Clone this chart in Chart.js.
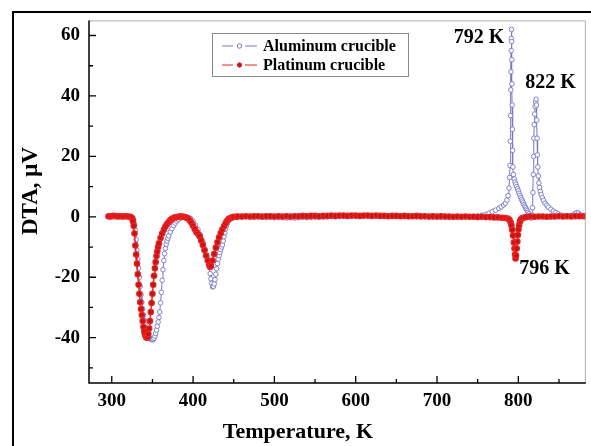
<!DOCTYPE html>
<html>
<head>
<meta charset="utf-8">
<script src="https://cdn.jsdelivr.net/npm/chart.js@4.4.1/dist/chart.umd.min.js"></script>
<style>
  html, body { margin: 0; padding: 0; background: #fff; }
  canvas { display: block; }
</style>
</head>
<body>
<canvas id="dtaChart" width="591" height="446"></canvas>
<script>
// Aluminum crucible (open blue circles)
const alTemp = [
  296, 299, 302, 305, 308, 311, 314, 317, 320, 323, 326, 327, 328, 329, 330, 331, 332, 333, 334, 335,
  336, 337, 338, 339, 340, 341, 342, 343, 344, 345, 346, 347, 348, 349, 350, 351, 352, 353, 354, 355,
  356, 357, 358, 359, 360, 361, 362, 363, 364, 365, 366, 367, 368, 369, 370, 372, 374, 376, 378, 380,
  382, 385, 388, 391, 394, 397, 400, 403, 406, 409, 412, 415, 417, 419, 421, 422, 423, 424, 425, 426,
  427, 428, 429, 430, 431, 432, 433, 434, 435, 436, 437, 438, 439, 440, 441, 442, 444, 446, 448, 451,
  454, 455, 460, 465, 470, 475, 480, 485, 490, 495, 500, 505, 510, 515, 520, 525, 530, 535, 540, 545,
  550, 555, 560, 565, 570, 575, 580, 585, 590, 595, 600, 605, 610, 615, 620, 625, 630, 635, 640, 645,
  650, 655, 660, 665, 670, 675, 680, 685, 690, 695, 700, 705, 710, 715, 720, 725, 730, 735, 740, 745,
  750, 755, 760, 764, 768, 772, 776, 779, 782, 784, 786, 787.5, 788.5, 789.3, 789.8, 790.2, 790.5, 790.8, 791, 791.2,
  791.4, 791.6, 791.8, 792, 792.2, 792.4, 792.7, 793, 793.4, 794, 795, 796, 797, 798, 799, 800, 801, 802, 803, 804,
  805, 806, 807, 808, 809, 810, 811, 812, 813, 814, 815, 816, 817, 817.5, 818, 818.4, 818.8, 819.2, 819.6, 820.1,
  820.7, 821.3, 821.9, 822.3, 822.7, 823.1, 823.5, 824, 824.6, 825.3, 826, 827, 828, 829.5, 831, 833, 835, 837, 840, 843,
  846, 849, 852, 855, 858, 861, 864, 867, 870, 872, 874, 876
];
const alDta = [
  0, 0.2, 0.4, 0.5, 0.3, 0.1, 0.1, 0.1, 0.1, 0, -0.3, -1, -2.5, -4.5, -7.5, -11, -14, -17, -20, -23,
  -25.8, -28.3, -30.5, -32.5, -34.2, -35.7, -37, -38, -38.9, -39.5, -40, -40.3, -40.5, -40.6, -40.7, -40.6, -40.2, -39.5, -38.6, -37.5,
  -36.2, -34.8, -33.3, -31.5, -28.5, -25, -21, -17.5, -14.5, -12.2, -10.5, -9.1, -8, -7.1, -6.3, -5, -3.9, -2.9, -2.1, -1.4,
  -0.9, -0.4, -0.1, 0, -0.2, -0.6, -1.5, -2.7, -4.2, -6, -8.3, -11, -13.2, -15.8, -18.8, -20.5, -22, -23.2, -23, -22.2,
  -20.8, -19, -17.2, -15.5, -14, -12.8, -11.8, -10.8, -10, -9.3, -8, -6.6, -5.2, -4, -3, -2.2, -1.2, -0.6, -0.3, -0.1,
  0, 0, -0.1, 0, -0.1, -0.2, -0.1, -0.2, -0.3, -0.2, -0.3, -0.2, -0.3, -0.4, -0.3, -0.4, -0.3, -0.2, -0.3, -0.2,
  -0.1, -0.2, -0.1, 0, 0.1, 0, 0.1, 0.2, 0.1, 0.2, 0.2, 0.1, 0.2, 0.3, 0.2, 0.3, 0.2, 0.3, 0.2, 0.2,
  0.1, 0.2, 0.1, 0, 0.1, 0, -0.1, 0, -0.1, -0.2, -0.1, -0.2, -0.1, -0.2, -0.1, -0.1, 0, 0, 0.1, 0.2,
  0.3, 0.5, 0.8, 1.2, 1.7, 2.2, 2.8, 3.3, 3.9, 4.5, 5.5, 7, 9.5, 13, 17, 25, 33.5, 42, 48, 55,
  59, 62, 58, 52, 44, 37, 29, 22, 16.5, 14, 12.5, 11.5, 10.8, 10, 9.3, 8.6, 7.8, 7.1, 6.4, 5.8,
  5.2, 4.6, 4, 3.5, 3, 2.5, 2, 1.5, 1, 0.4, -0.2, -0.4, 0.5, 3, 8, 14, 20, 26, 30.5, 34,
  36.5, 38, 38.9, 37, 32, 26, 20.5, 16.5, 13.5, 11.2, 9.7, 8.4, 7.4, 6.3, 5.4, 4.5, 3.8, 3.2, 2.5, 1.9,
  1.4, 1, 0.6, 0.3, 0.1, 0.1, 0.3, 0.6, 1.1, 1.4, 1.2, 0.7
];

// Platinum crucible (filled red dots)
const ptTemp = [
  296, 299, 302, 305, 308, 311, 314, 317, 320, 323, 325, 326, 327, 328, 329, 330, 331, 332, 333, 334,
  335, 336, 337, 338, 339, 340, 341, 342, 343, 344, 345, 346, 347, 348, 349, 350, 351, 352, 353, 354,
  355, 356, 357, 358, 360, 362, 364, 366, 368, 370, 372, 374, 376, 378, 380, 382, 384, 386, 388, 390,
  392, 394, 396, 398, 400, 402, 404, 406, 408, 410, 412, 414, 416, 418, 420, 421, 422, 424, 426, 428,
  430, 432, 434, 436, 438, 440, 442, 444, 446, 448, 450, 453, 455, 460, 465, 470, 475, 480, 485, 490,
  495, 500, 505, 510, 515, 520, 525, 530, 535, 540, 545, 550, 555, 560, 565, 570, 575, 580, 585, 590,
  595, 600, 605, 610, 615, 620, 625, 630, 635, 640, 645, 650, 655, 660, 665, 670, 675, 680, 685, 690,
  695, 700, 705, 710, 715, 720, 725, 730, 735, 740, 745, 750, 755, 760, 765, 770, 775, 780, 784, 787,
  789, 790.5, 791.5, 792.5, 793.5, 794.5, 795.3, 796, 796.6, 797.2, 798, 798.8, 799.5, 800.2, 801, 802, 803, 805, 808, 811,
  815, 820, 825, 830, 835, 840, 845, 850, 855, 860, 865, 870, 875, 880, 883
];
const ptDta = [
  0.2, 0.1, 0.3, 0.2, 0.1, 0.2, 0.1, 0.2, 0.1, 0, -0.5, -1.5, -3, -5.5, -9.5, -12.5, -15.5, -19, -22.5, -25.5,
  -28.3, -30.5, -32.5, -34.5, -36.5, -38, -39, -39.7, -40, -39.8, -38.8, -37, -34.5, -31.5, -28.5, -25.5, -22.5, -19.5, -17, -15,
  -13, -11.5, -10, -8.8, -7, -5.5, -4.3, -3.2, -2.4, -1.7, -1.1, -0.7, -0.4, -0.2, -0.1, 0, 0.1, 0.1, 0, -0.1,
  -0.3, -0.6, -1.2, -2, -3, -4, -5, -5.6, -6.4, -7.8, -9.3, -11, -12.8, -14.5, -16, -16.6, -16.3, -14.5, -12.3, -10.2,
  -8.4, -6.8, -5.4, -4.2, -3.1, -2.1, -1.3, -0.7, -0.4, -0.2, 0, 0, 0.1, 0.1, 0.2, 0.1, 0.2, 0.2, 0.1, 0.2,
  0.2, 0.1, 0.2, 0.1, 0.2, 0.1, 0.2, 0.2, 0.3, 0.2, 0.3, 0.3, 0.2, 0.3, 0.3, 0.4, 0.3, 0.4, 0.4, 0.3,
  0.4, 0.4, 0.3, 0.4, 0.4, 0.3, 0.4, 0.3, 0.3, 0.2, 0.3, 0.3, 0.2, 0.3, 0.2, 0.2, 0.3, 0.2, 0.2, 0.1,
  0.2, 0.1, 0.2, 0.1, 0.1, 0, 0.1, 0, 0.1, 0, 0, -0.1, 0, -0.1, -0.1, -0.2, -0.2, -0.3, -0.4, -0.6,
  -1, -1.8, -2.8, -4.3, -6.2, -8.5, -10.5, -12.5, -13.8, -12.8, -10.5, -8.2, -6, -4.2, -2.8, -1.6, -0.9, -0.4, -0.2, 0,
  0.1, 0, 0.1, 0.1, 0, 0.1, 0.1, 0.2, 0.1, 0.2, 0.1, 0.2, 0.2, 0.2, 0.2
];

// Axis ticks
const xMajorTicks = [300, 400, 500, 600, 700, 800];
const xMinorTicks = [350, 450, 550, 650, 750, 850];
const yMajorTicks = [-40, -20, 0, 20, 40, 60];
const yMinorTicks = [-50, -30, -10, 10, 30, 50];

// Peak labels (data coordinates)
const peakLabels = [
  { text: '792 K', x: 782.8, y: 59.1, align: 'right' },
  { text: '822 K', x: 808.5, y: 44.3, align: 'left' },
  { text: '796 K', x: 801.2, y: -17.3, align: 'left' }
];

const seriesNames = ['Aluminum crucible', 'Platinum crucible'];

const SERIF = '"Liberation Serif", "DejaVu Serif", serif';
const BLUE = '#7676c6';
const RED = '#ee2222';
const DARKRED = '#c01616';

function toPoints(xs, ys) {
  return xs.map((x, i) => ({ x: x, y: ys[i] }));
}

// Frame, inward ticks, titles, legend and labels
const decorPlugin = {
  id: 'decor',
  afterDraw(chart) {
    const ctx = chart.ctx;
    const area = chart.chartArea;
    const xs = chart.scales.x;
    const ys = chart.scales.y;

    ctx.save();
    // outer frame
    ctx.strokeStyle = '#000';
    ctx.lineWidth = 2;
    ctx.beginPath();
    ctx.moveTo(13, 446);
    ctx.lineTo(13, 12);
    ctx.lineTo(591, 12);
    ctx.stroke();

    // plot box: grey top/right
    ctx.strokeStyle = '#b0b0b0';
    ctx.lineWidth = 1;
    ctx.beginPath();
    ctx.moveTo(area.left, area.top + 0.5);
    ctx.lineTo(area.right - 0.5, area.top + 0.5);
    ctx.lineTo(area.right - 0.5, area.bottom);
    ctx.stroke();

    // black left/bottom axes
    ctx.strokeStyle = '#000';
    ctx.lineWidth = 1.5;
    ctx.beginPath();
    ctx.moveTo(area.left, area.top);
    ctx.lineTo(area.left, area.bottom);
    ctx.lineTo(area.right, area.bottom);
    ctx.stroke();

    // inward ticks
    ctx.lineWidth = 1.3;
    ctx.beginPath();
    xMajorTicks.forEach(v => {
      const px = xs.getPixelForValue(v);
      ctx.moveTo(px, area.bottom);
      ctx.lineTo(px, area.bottom - 7);
    });
    xMinorTicks.forEach(v => {
      const px = xs.getPixelForValue(v);
      ctx.moveTo(px, area.bottom);
      ctx.lineTo(px, area.bottom - 4);
    });
    yMajorTicks.forEach(v => {
      const py = ys.getPixelForValue(v);
      ctx.moveTo(area.left, py);
      ctx.lineTo(area.left + 7, py);
    });
    yMinorTicks.forEach(v => {
      const py = ys.getPixelForValue(v);
      ctx.moveTo(area.left, py);
      ctx.lineTo(area.left + 4, py);
    });
    ctx.stroke();

    // axis titles
    ctx.fillStyle = '#000';
    ctx.textBaseline = 'middle';
    ctx.textAlign = 'center';
    ctx.font = 'bold 22px ' + SERIF;
    ctx.fillText('Temperature, K', 298, 432);
    ctx.save();
    ctx.translate(31, 191);
    ctx.rotate(-Math.PI / 2);
    ctx.font = 'bold 23px ' + SERIF;
    ctx.fillText('DTA, \u03bcV', 0, 0);
    ctx.restore();

    // peak labels
    ctx.font = 'bold 20px ' + SERIF;
    peakLabels.forEach(l => {
      ctx.textAlign = l.align;
      ctx.fillText(l.text, xs.getPixelForValue(l.x), ys.getPixelForValue(l.y));
    });

    // legend
    const lx = 212, ly = 33, lw = 196, lh = 43;
    ctx.fillStyle = '#fff';
    ctx.fillRect(lx, ly, lw, lh);
    ctx.strokeStyle = '#8a8a8a';
    ctx.lineWidth = 1;
    ctx.strokeRect(lx + 0.5, ly + 0.5, lw, lh);
    const rows = [
      { y: 46, line: BLUE, fill: '#fff', stroke: BLUE },
      { y: 65, line: RED, fill: DARKRED, stroke: RED }
    ];
    rows.forEach((r, i) => {
      ctx.strokeStyle = r.line;
      ctx.lineWidth = 1;
      ctx.beginPath();
      ctx.moveTo(222, r.y);
      ctx.lineTo(233, r.y);
      ctx.moveTo(245, r.y);
      ctx.lineTo(257, r.y);
      ctx.stroke();
      ctx.beginPath();
      ctx.arc(239.5, r.y, 2.2, 0, Math.PI * 2);
      ctx.fillStyle = r.fill;
      ctx.fill();
      ctx.strokeStyle = r.stroke;
      ctx.stroke();
      ctx.fillStyle = '#000';
      ctx.textAlign = 'left';
      ctx.font = 'bold 16px ' + SERIF;
      ctx.fillText(seriesNames[i], 263, r.y + 1);
    });
    ctx.restore();
  }
};

const ctx = document.getElementById('dtaChart').getContext('2d');
const dtaChart = new Chart(ctx, {
  type: 'scatter',
  data: {
    datasets: [{
      label: seriesNames[0],
      data: toPoints(alTemp, alDta),
      showLine: true,
      borderColor: BLUE,
      borderWidth: 1,
      pointRadius: 2.3,
      pointBorderWidth: 0.9,
      pointBorderColor: BLUE,
      pointBackgroundColor: '#fff',
      order: 1
    }, {
      label: seriesNames[1],
      data: toPoints(ptTemp, ptDta),
      showLine: true,
      borderColor: RED,
      borderWidth: 1.5,
      pointRadius: 2.7,
      pointBorderWidth: 1.2,
      pointBorderColor: RED,
      pointBackgroundColor: DARKRED,
      order: 0
    }]
  },
  options: {
    responsive: false,
    animation: false,
    devicePixelRatio: 1,
    layout: { padding: { top: 17, right: 2, left: 0, bottom: 0 } },
    plugins: {
      legend: { display: false },
      tooltip: { enabled: false }
    },
    scales: {
      x: {
        type: 'linear',
        min: 272,
        max: 883,
        afterBuildTicks: s => { s.ticks = xMajorTicks.map(v => ({ value: v })); },
        afterFit: s => { s.height = 63; },
        grid: { display: false, drawTicks: false },
        border: { display: false },
        ticks: {
          autoSkip: false,
          maxRotation: 0,
          padding: 7,
          color: '#000',
          font: { family: SERIF, size: 19, weight: 'bold' }
        }
      },
      y: {
        type: 'linear',
        min: -55,
        max: 65,
        afterBuildTicks: s => { s.ticks = yMajorTicks.map(v => ({ value: v })); },
        afterFit: s => { s.width = 89; },
        grid: { display: false, drawTicks: false },
        border: { display: false },
        ticks: {
          autoSkip: false,
          padding: 9,
          color: '#000',
          font: { family: SERIF, size: 19, weight: 'bold' }
        }
      }
    }
  },
  plugins: [decorPlugin]
});
</script>
</body>
</html>
